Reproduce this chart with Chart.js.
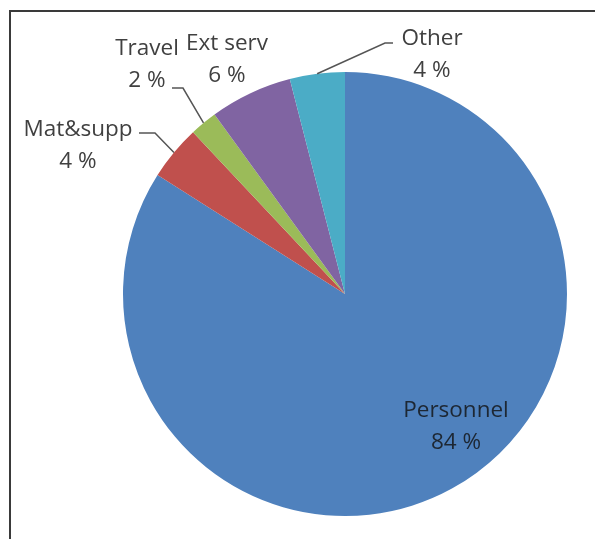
<!DOCTYPE html>
<html>
<head>
<meta charset="utf-8">
<title>Cost breakdown</title>
<script src="https://cdn.jsdelivr.net/npm/chart.js@4.4.1/dist/chart.umd.min.js"></script>
<style>
  html, body { margin: 0; padding: 0; background: #fff; }
  #wrap { position: relative; width: 595px; height: 539px; overflow: hidden; }
  #frame {
    position: absolute; left: 9px; top: 10px; right: -5px; bottom: -5px;
    border-top: 2px solid #3a3a3a; border-left: 2px solid #3a3a3a;
  }
  canvas { position: absolute; left: 0; top: 0; }
</style>
</head>
<body>
<div id="wrap">
  <div id="frame"></div>
  <canvas id="pie" width="595" height="539"></canvas>
</div>
<script>
const categories = ['Personnel', 'Mat&supp', 'Travel', 'Ext serv', 'Other'];
const shares = [84, 4, 2, 6, 4];
const colors = ['#4f81bd', '#c0504d', '#9bbb59', '#8064a2', '#4bacc6'];

// where each label block goes (center x, first baseline) and an optional leader elbow
const labelLayout = [
  { x: 456, y: 417, color: '#1d2733' },
  { x: 78, y: 136, leader: [[139, 133], [155, 133]] },
  { x: 147, y: 55, leader: [[172, 88], [183, 88]] },
  { x: 227, y: 50 },
  { x: 432, y: 45, leader: [[393, 43], [385, 43]] }
];

const pieLabels = {
  id: 'pieLabels',
  afterDatasetsDraw(chart) {
    const ctx = chart.ctx;
    const arcs = chart.getDatasetMeta(0).data;
    ctx.save();
    ctx.font = '22.5px "Open Sans", sans-serif';
    ctx.textAlign = 'center';
    ctx.textBaseline = 'alphabetic';
    arcs.forEach((arc, i) => {
      const pos = labelLayout[i];
      if (pos.leader) {
        const mid = (arc.startAngle + arc.endAngle) / 2;
        const ex = arc.x + Math.cos(mid) * arc.outerRadius;
        const ey = arc.y + Math.sin(mid) * arc.outerRadius;
        ctx.strokeStyle = '#555';
        ctx.lineWidth = 1.5;
        ctx.beginPath();
        ctx.moveTo(pos.leader[0][0], pos.leader[0][1]);
        ctx.lineTo(pos.leader[1][0], pos.leader[1][1]);
        ctx.lineTo(ex, ey);
        ctx.stroke();
      }
      ctx.fillStyle = pos.color || '#404040';
      ctx.fillText(categories[i], pos.x, pos.y);
      ctx.fillText(shares[i] + ' %', pos.x, pos.y + 32);
    });
    ctx.restore();
  }
};

new Chart(document.getElementById('pie'), {
  type: 'pie',
  data: {
    labels: categories,
    datasets: [{
      data: shares,
      backgroundColor: colors,
      borderWidth: 0
    }]
  },
  options: {
    responsive: false,
    animation: false,
    layout: { padding: { left: 123, right: 28, top: 72, bottom: 23 } },
    plugins: {
      legend: { display: false },
      tooltip: { enabled: false }
    }
  },
  plugins: [pieLabels]
});
</script>
</body>
</html>
